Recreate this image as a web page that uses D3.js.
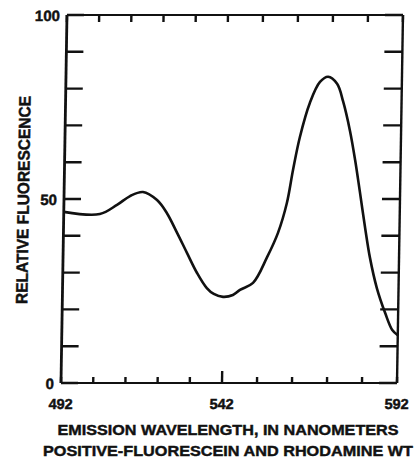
<!DOCTYPE html>
<html>
<head>
<meta charset="utf-8">
<script src="https://cdn.jsdelivr.net/npm/d3@7"></script>
<style>
  html, body { margin: 0; padding: 0; background: #fff; }
  svg { display: block; }
  text { font-family: "Liberation Sans", Arial, Helvetica, sans-serif; font-weight: bold; fill: #111; stroke: #111; stroke-width: 0.45; }
</style>
</head>
<body>
<svg id="chart" width="415" height="466"></svg>
<script>
// Emission spectrum, positive fluorescein and rhodamine WT
const wavelength = [492, 503.2, 508.5, 512.5, 516.5, 520.9, 524.0, 527.3, 530.5, 533.7,
  536.8, 539.0, 541.9, 544.7, 546.7, 550.4, 554.3, 557.3, 559.7, 561.3,
  563.1, 565.8, 568.6, 570.9, 573.5, 575.3, 577.4, 579.0, 580.5, 582.2,
  583.7, 585.8, 588.3, 590.4, 592];
const fluorescence = [46.5, 45.9, 48.4, 50.8, 51.9, 49.7, 46.2, 40.8, 35.3, 29.9,
  25.8, 24.2, 23.4, 23.9, 25.3, 27.2, 34.2, 40.8, 48.9, 57.9,
  66.8, 76.1, 81.8, 83.2, 81.3, 76.5, 68.5, 60.6, 52.0, 42.0,
  34.0, 25.8, 19.0, 14.4, 13.0];

const xTicks = [492, 502, 512, 522, 532, 542, 552, 562, 572, 582, 592];
const xLabels = [492, 542, 592];
const yTicks = [0, 10, 20, 30, 40, 50, 60, 70, 80, 90, 100];
const yLabels = [0, 50, 100];

const svg = d3.select("#chart");

const x = d3.scaleLinear().domain([492, 542, 592]).range([61, 222, 397]);
const y = d3.scaleLinear().domain([0, 100]).range([383, 15]);

// the printed sheet sits slightly askew
const g = svg.append("g")
  .attr("transform", "translate(0,383) skewX(-0.93) translate(0,-383)");

// tick marks
const tickStyle = sel => sel.attr("stroke", "#111").attr("stroke-width", 2.4);

g.selectAll(".ytl").data(yTicks).join("line")
  .attr("x1", x(492)).attr("x2", x(492) + 17)
  .attr("y1", d => y(d)).attr("y2", d => y(d)).call(tickStyle);

g.selectAll(".ytr").data(yTicks).join("line")
  .attr("x1", x(592)).attr("x2", x(592) - 18)
  .attr("y1", d => y(d)).attr("y2", d => y(d)).call(tickStyle);

g.selectAll(".xtb").data(xTicks).join("line")
  .attr("x1", d => x(d)).attr("x2", d => x(d))
  .attr("y1", y(0)).attr("y2", d => y(0) - (d === 542 ? 12 : 6)).call(tickStyle);

g.selectAll(".xtt").data(xTicks).join("line")
  .attr("x1", d => x(d)).attr("x2", d => x(d))
  .attr("y1", y(100)).attr("y2", y(100) + 7).call(tickStyle);

// frame
g.append("line").attr("x1", x(492)).attr("x2", x(492)).attr("y1", y(100)).attr("y2", y(0))
  .attr("stroke", "#111").attr("stroke-width", 2.8);
g.append("line").attr("x1", x(592)).attr("x2", x(592)).attr("y1", y(100)).attr("y2", y(0))
  .attr("stroke", "#111").attr("stroke-width", 2.4);
g.append("line").attr("x1", x(492)).attr("x2", x(592)).attr("y1", y(0)).attr("y2", y(0))
  .attr("stroke", "#111").attr("stroke-width", 2.2);
g.append("line").attr("x1", x(492)).attr("x2", x(592)).attr("y1", y(100)).attr("y2", y(100))
  .attr("stroke", "#111").attr("stroke-width", 2.2);

// spectrum
const pts = wavelength.map((w, i) => [w, fluorescence[i]]);
const line = d3.line()
  .x(d => x(d[0])).y(d => y(d[1]))
  .curve(d3.curveCatmullRom.alpha(0.5));
g.append("path").datum(pts)
  .attr("d", line)
  .attr("fill", "none").attr("stroke", "#111")
  .attr("stroke-width", 2.6).attr("stroke-linejoin", "round");

// tick labels
g.selectAll(".yl").data(yLabels).join("text")
  .attr("x", x(492) - 7).attr("y", d => y(d) + 6)
  .attr("text-anchor", "end").attr("font-size", 15)
  .text(d => d);

g.selectAll(".xl").data(xLabels).join("text")
  .attr("x", d => x(d)).attr("y", 409)
  .attr("text-anchor", "middle").attr("font-size", 14.5)
  .text(d => d);

// axis titles
g.append("text")
  .attr("transform", "translate(26,200) rotate(-90)")
  .attr("text-anchor", "middle").attr("font-size", 16.5)
  .attr("textLength", 208).attr("lengthAdjust", "spacingAndGlyphs")
  .text("RELATIVE FLUORESCENCE");

svg.append("text")
  .attr("x", 228).attr("y", 435)
  .attr("text-anchor", "middle").attr("font-size", 15.5)
  .attr("textLength", 341).attr("lengthAdjust", "spacingAndGlyphs")
  .text("EMISSION WAVELENGTH, IN NANOMETERS");

svg.append("text")
  .attr("x", 228).attr("y", 456)
  .attr("text-anchor", "middle").attr("font-size", 15.5)
  .attr("textLength", 370).attr("lengthAdjust", "spacingAndGlyphs")
  .text("POSITIVE-FLUORESCEIN AND RHODAMINE WT");
</script>
</body>
</html>
